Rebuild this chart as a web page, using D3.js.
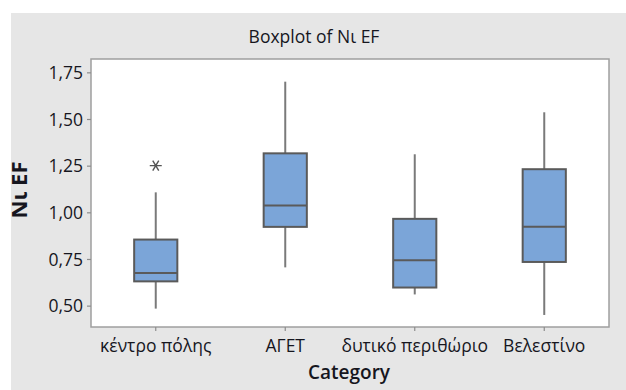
<!DOCTYPE html>
<html>
<head>
<meta charset="utf-8">
<script src="https://cdn.jsdelivr.net/npm/d3@7"></script>
<style>
  html, body { margin: 0; padding: 0; background: #ffffff; }
  svg { display: block; }
  text { font-family: "Open Sans", "Noto Sans", sans-serif; fill: #16161e; }
</style>
</head>
<body>
<svg id="chart" width="626" height="390"></svg>
<script>
// Ni enrichment factor by sampling area
const categories = ["κέντρο πόλης", "ΑΓΕΤ", "δυτικό περιθώριο", "Βελεστίνο"];
const whiskerLow  = [0.484, 0.705, 0.560, 0.450];
const q1          = [0.630, 0.922, 0.597, 0.734];
const median      = [0.675, 1.036, 0.743, 0.923];
const q3          = [0.854, 1.316, 0.965, 1.231];
const whiskerHigh = [1.107, 1.700, 1.311, 1.536];
const outliers    = [[1.25], [], [], []];
const yTicks      = [0.50, 0.75, 1.00, 1.25, 1.50, 1.75];

const svg = d3.select("#chart");
const W = 626, H = 390;
const plot = { left: 91, top: 59, right: 609, bottom: 327 };

// outer panel
svg.append("rect").attr("x", 11).attr("y", 13).attr("width", W - 11).attr("height", H - 13)
  .attr("fill", "#e6e6e6");

svg.append("rect")
  .attr("x", plot.left).attr("y", plot.top)
  .attr("width", plot.right - plot.left).attr("height", plot.bottom - plot.top)
  .attr("fill", "#ffffff").attr("stroke", "#9f9f9f").attr("stroke-width", 1.5);

const x = d3.scaleBand().domain(categories).range([plot.left, plot.right]).padding(0);
const y = d3.scaleLinear().domain([0.3855, 1.8215]).range([plot.bottom, plot.top]);

const fmt = d => d3.format(".2f")(d).replace(".", ",");

// axes
const yAxis = svg.append("g").attr("transform", `translate(${plot.left},0)`)
  .call(d3.axisLeft(y).tickValues(yTicks).tickFormat(fmt).tickSize(4).tickPadding(4));
const xAxis = svg.append("g").attr("transform", `translate(0,${plot.bottom})`)
  .call(d3.axisBottom(x).tickSize(4).tickPadding(9));
[yAxis, xAxis].forEach(g => {
  g.select(".domain").remove();
  g.selectAll(".tick line").attr("stroke", "#8c8c8c").attr("stroke-width", 1.2);
  g.selectAll(".tick text").attr("font-family", null).style("fill", "#16161e");
});
yAxis.selectAll(".tick text").attr("font-size", 17.5).attr("dy", "0.36em");
xAxis.selectAll(".tick text").attr("font-size", 17.5);

// boxes
const bw = x.bandwidth() / 3;
const data = categories.map((c, i) => ({
  c, lo: whiskerLow[i], q1: q1[i], med: median[i], q3: q3[i], hi: whiskerHigh[i], out: outliers[i]
}));
const stroke = "#5a5a5a";
const g = svg.append("g").selectAll("g").data(data).join("g")
  .attr("transform", d => `translate(${x(d.c) + x.bandwidth() / 2},0)`);

g.append("line").attr("x1", 0).attr("x2", 0)
  .attr("y1", d => y(d.hi)).attr("y2", d => y(d.q3))
  .attr("stroke", "#7a7a7a").attr("stroke-width", 2);
g.append("line").attr("x1", 0).attr("x2", 0)
  .attr("y1", d => y(d.q1)).attr("y2", d => y(d.lo))
  .attr("stroke", "#7a7a7a").attr("stroke-width", 2);
g.append("rect")
  .attr("x", -bw / 2).attr("width", bw)
  .attr("y", d => y(d.q3)).attr("height", d => y(d.q1) - y(d.q3))
  .attr("fill", "#7ba5d8").attr("stroke", stroke).attr("stroke-width", 2);
g.append("line").attr("x1", -bw / 2).attr("x2", bw / 2)
  .attr("y1", d => y(d.med)).attr("y2", d => y(d.med))
  .attr("stroke", stroke).attr("stroke-width", 2);

// outlier asterisks
g.selectAll("path.out").data(d => d.out).join("path")
  .attr("class", "out")
  .attr("transform", v => `translate(0,${y(v)})`)
  .attr("d", "M-6,0H6M-3,-5L3,5M3,-5L-3,5")
  .attr("fill", "none").attr("stroke", "#555").attr("stroke-width", 1.4);

// titles
svg.append("text").attr("x", 314).attr("y", 43).attr("text-anchor", "middle")
  .attr("font-size", 17.5).text("Boxplot of Nι EF");
svg.append("text").attr("x", 349).attr("y", 379).attr("text-anchor", "middle")
  .attr("font-size", 19).attr("font-weight", 600).text("Category");
svg.append("text").attr("transform", "translate(27,190) rotate(-90)")
  .attr("text-anchor", "middle").attr("font-size", 22).attr("font-weight", 700).text("Nι EF");
</script>
</body>
</html>
